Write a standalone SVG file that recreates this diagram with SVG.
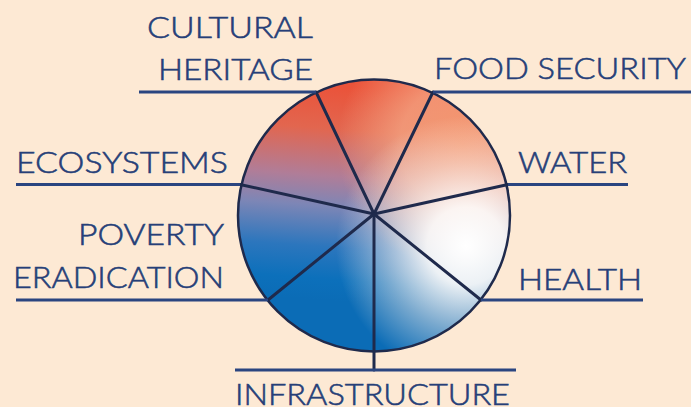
<svg xmlns="http://www.w3.org/2000/svg" width="691" height="407" viewBox="0 0 691 407">
  <style>
    .label { font-family: "Lato", "Liberation Sans", sans-serif; font-weight: 300; font-size: 29px; fill: #263f78; stroke: #263f78; stroke-width: 0.55; }
    .rule { stroke: #2a4580; stroke-width: 3; fill: none; }
    .spoke { stroke: #1f2a4c; stroke-width: 3; fill: none; stroke-linecap: round; }
  </style>
  <defs>
    <!-- warm top sweeping into blue at the bottom -->
    <linearGradient id="baseGrad" gradientUnits="userSpaceOnUse" x1="335" y1="86" x2="320" y2="300">
      <stop offset="0" stop-color="#ea533a"/>
      <stop offset="0.2" stop-color="#e2664f"/>
      <stop offset="0.42" stop-color="#b07d98"/>
      <stop offset="0.56" stop-color="#7d86b6"/>
      <stop offset="0.75" stop-color="#2c76bd"/>
      <stop offset="0.9" stop-color="#0c70bb"/>
      <stop offset="1" stop-color="#0b6cb6"/>
    </linearGradient>
    <!-- orange glow on the upper right -->
    <radialGradient id="warmGlow" gradientUnits="userSpaceOnUse" cx="462" cy="145" r="125">
      <stop offset="0" stop-color="#f59a70" stop-opacity="0.9"/>
      <stop offset="0.5" stop-color="#f6ab88" stop-opacity="0.7"/>
      <stop offset="1" stop-color="#f6ab88" stop-opacity="0"/>
    </radialGradient>
    <!-- white highlight on the right side -->
    <radialGradient id="whiteGlow" gradientUnits="userSpaceOnUse" cx="466" cy="246" r="130">
      <stop offset="0" stop-color="#ffffff" stop-opacity="1"/>
      <stop offset="0.3" stop-color="#fffcfa" stop-opacity="0.92"/>
      <stop offset="0.65" stop-color="#fdf2ec" stop-opacity="0.45"/>
      <stop offset="1" stop-color="#fdf2ec" stop-opacity="0"/>
    </radialGradient>
    <clipPath id="disc">
      <circle cx="374" cy="215.5" r="136"/>
    </clipPath>
  </defs>

  <rect width="691" height="407" fill="#fde9d4"/>

  <!-- the shaded disc -->
  <g id="wheel">
    <g clip-path="url(#disc)">
      <rect x="230" y="75" width="290" height="285" fill="url(#baseGrad)"/>
      <rect x="230" y="75" width="290" height="285" fill="url(#warmGlow)"/>
      <rect x="230" y="75" width="290" height="285" fill="url(#whiteGlow)"/>
    </g>
    <circle cx="374" cy="215.5" r="136" fill="none" stroke="#1f2a4c" stroke-width="2.5"/>
  </g>

  <!-- spokes from the hub and the rules under each label -->
  <g id="connectors">
    <line class="spoke" x1="374" y1="214" x2="316" y2="92"/>
    <line class="spoke" x1="374" y1="214" x2="433" y2="92"/>
    <line class="spoke" x1="374" y1="214" x2="508" y2="184.5"/>
    <line class="spoke" x1="374" y1="214" x2="240" y2="184.5"/>
    <line class="spoke" x1="374" y1="214" x2="268" y2="300"/>
    <line class="spoke" x1="374" y1="214" x2="481" y2="300"/>
    <line class="spoke" x1="374" y1="214" x2="374" y2="370"/>
    <line class="rule" x1="139" y1="92" x2="316" y2="92"/>
    <line class="rule" x1="433" y1="92" x2="691" y2="92"/>
    <line class="rule" x1="16" y1="184.5" x2="240" y2="184.5"/>
    <line class="rule" x1="508" y1="184.5" x2="628" y2="184.5"/>
    <line class="rule" x1="16" y1="300" x2="268" y2="300"/>
    <line class="rule" x1="481" y1="300" x2="643" y2="300"/>
    <line class="rule" x1="235" y1="370" x2="516" y2="370"/>
  </g>

  <g id="cultural-heritage">
    <text class="label" x="147" y="37.5" textLength="166" lengthAdjust="spacingAndGlyphs">CULTURAL</text>
    <text class="label" x="158" y="80" textLength="155" lengthAdjust="spacingAndGlyphs">HERITAGE</text>
  </g>
  <g id="food-security">
    <text class="label" x="434" y="79" textLength="252" lengthAdjust="spacingAndGlyphs">FOOD SECURITY</text>
  </g>
  <g id="ecosystems">
    <text class="label" x="16" y="172.5" textLength="212" lengthAdjust="spacingAndGlyphs">ECOSYSTEMS</text>
  </g>
  <g id="water">
    <text class="label" x="518" y="172.5" textLength="109" lengthAdjust="spacingAndGlyphs">WATER</text>
  </g>
  <g id="poverty-eradication">
    <text class="label" x="78" y="244.5" textLength="146" lengthAdjust="spacingAndGlyphs">POVERTY</text>
    <text class="label" x="13" y="287.5" textLength="211" lengthAdjust="spacingAndGlyphs">ERADICATION</text>
  </g>
  <g id="health">
    <text class="label" x="518" y="290" textLength="124" lengthAdjust="spacingAndGlyphs">HEALTH</text>
  </g>
  <g id="infrastructure">
    <text class="label" x="235" y="405" textLength="275" lengthAdjust="spacingAndGlyphs">INFRASTRUCTURE</text>
  </g>
</svg>
